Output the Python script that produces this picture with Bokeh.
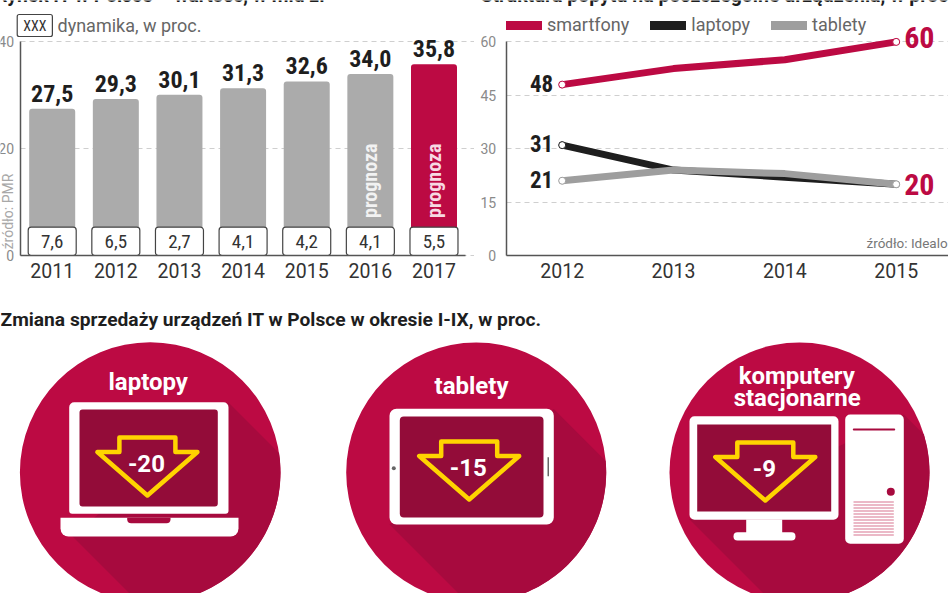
import math
from bokeh.core.properties import value
from bokeh.embed import file_html
from bokeh.resources import INLINE
from bokeh.layouts import column, row
from bokeh.models import Range1d, FixedTicker, Label, Legend, LegendItem, LinearAxis, Grid
from bokeh.plotting import figure

# ---------- data ----------
BAR_YEARS = [2011, 2012, 2013, 2014, 2015, 2016, 2017]
BAR_VALUES = [27.5, 29.3, 30.1, 31.3, 32.6, 34.0, 35.8]
BAR_GROWTH = [7.6, 6.5, 2.7, 4.1, 4.2, 4.1, 5.5]
FORECAST_YEARS = [2016, 2017]
BAR_TICKS = [0, 20, 40]

LINE_YEARS = [2012, 2013, 2014, 2015]
SMARTFONY = [48, 52.5, 55, 60]
LAPTOPY = [31, 24, 22, 20]
TABLETY = [21, 24, 23, 20]
LINE_TICKS = [0, 15, 30, 45, 60]

DEVICE_CHANGE = [-20, -15, -9]

TITLE_1 = "Rynek IT w Polsce – wartość, w mld zł"
TITLE_2 = "Struktura popytu na poszczególne urządzenia, w proc."
TITLE_3 = "Zmiana sprzedaży urządzeń IT w Polsce w okresie I-IX, w proc."

# ---------- style ----------
RED = "#BC0A43"
SHADOW = "#A70A3E"
SCREEN = "#930C39"
YELLOW = "#FFD400"
GREY = "#ABABAB"
LGREY = "#9E9E9E"
BLACK = "#1E1E1E"
AX = "#555555"
TICK = "#8A8A8A"
TXT = "#666666"
NARROW = "Roboto Condensed"
SANS = "Roboto"
NO_DATA = [float("nan")]


def pz(fig):
    fig.toolbar.logo = None
    fig.outline_line_color = None
    fig.background_fill_color = "white"
    fig.border_fill_color = "white"
    return fig


def style_axes(p, xt, yt, xb, yb, axis_x, standoff):
    p.xgrid.visible = False
    p.ygrid.visible = False
    p.xaxis.fixed_location = 0
    p.xaxis.ticker = FixedTicker(ticks=xt)
    p.xaxis.bounds = xb
    p.xaxis.major_tick_line_color = None
    p.xaxis.minor_tick_line_color = None
    p.xaxis.axis_line_color = AX
    p.xaxis.axis_line_width = 1.5
    p.xaxis.major_label_text_font = SANS
    p.xaxis.major_label_text_font_size = "19.5px"
    p.xaxis.major_label_text_color = "#333333"
    p.xaxis.major_label_standoff = 1
    yax = LinearAxis(ticker=FixedTicker(ticks=yt), fixed_location=axis_x, bounds=yb,
                     major_tick_line_color=None, minor_tick_line_color=None,
                     axis_line_color=AX, axis_line_width=1.5,
                     major_label_text_font=SANS, major_label_text_font_size="14px",
                     major_label_text_color=TICK, major_label_standoff=standoff)
    p.add_layout(yax, "left")
    grid = Grid(dimension=1, ticker=FixedTicker(ticks=yt), grid_line_color="#CFCFCF",
                grid_line_dash=[5, 4], grid_line_width=1)
    if "cross_bounds" in Grid.properties():
        grid.cross_bounds = (axis_x, p.x_range.end)
    p.add_layout(grid)


# ---------- left chart ----------
PW1 = 63.63
PH1 = 5.34
X0 = 2011 - 51.7 / PW1
X1 = 2011 + (474 - 51.7) / PW1
p1 = pz(figure(width=474, height=300, output_backend="svg", toolbar_location=None,
               x_range=Range1d(X0, X1), y_range=Range1d(-45 / PH1, 255 / PH1), y_axis_location=None,
               min_border_left=0, min_border_right=0, min_border_top=0, min_border_bottom=0))


def fx1(px):
    return X0 + px / PW1


def fy1(py):
    return (255 - py) / PH1


style_axes(p1, BAR_YEARS, BAR_TICKS, (fx1(19.5), fx1(465)), (0, 40), fx1(19.5), 0)

colors = [RED if y == 2017 else GREY for y in BAR_YEARS]
p1.vbar(x=BAR_YEARS, top=BAR_VALUES, width=46 / PW1, fill_color=colors, line_color=None,
        border_radius=(3, 3, 0, 0))
p1.vbar(x=BAR_YEARS, top=[5.3] * len(BAR_YEARS), bottom=0, width=48 / PW1, fill_color="white",
        line_color="#444444", line_width=1.2, border_radius=3)
p1.text(x=BAR_YEARS, y=[2.7] * len(BAR_YEARS),
        text=[f"{v:.1f}".replace(".", ",") for v in BAR_GROWTH],
        text_align="center", text_baseline="middle", text_font=value(NARROW),
        text_font_size="19px", text_color="#333333")
p1.text(x=BAR_YEARS, y=BAR_VALUES, text=[f"{v:.1f}".replace(".", ",") for v in BAR_VALUES],
        text_align="center", text_baseline="bottom", y_offset=-7, text_font=value(NARROW),
        text_font_style="bold", text_font_size="24px", text_color="#1E1E1E")
p1.text(x=FORECAST_YEARS, y=[14] * 2, text=["prognoza"] * 2, angle=math.pi / 2,
        text_align="center", text_baseline="middle", text_font=value(NARROW), text_font_style="bold",
        text_font_size="20px", text_color=["#F2F2F2", "#F7D9E2"])

lab = dict(x_units="data", y_units="data")
p1.add_layout(Label(x=fx1(325), y=fy1(-5), text=TITLE_1, text_font=SANS, text_font_style="bold",
                    text_font_size="19.3px", text_color="#1E1E1E", text_align="right",
                    text_baseline="alphabetic", **lab))
p1.add_layout(Label(x=fx1(34.3), y=fy1(25), text="XXX", text_font=NARROW, text_font_size="14px",
                    text_color="#333333", text_align="center", text_baseline="middle",
                    border_line_color="#444444", border_line_width=1.2, background_fill_color="white",
                    padding=(6, 3), border_radius=2, **lab))
p1.add_layout(Label(x=fx1(57), y=fy1(25), text="dynamika, w proc.", text_font=SANS,
                    text_font_size="18px", text_color=TXT, text_baseline="middle", **lab))
p1.add_layout(Label(x=fx1(7), y=fy1(211), text="źródło: PMR", text_font=SANS, text_font_size="14px",
                    text_color="#A8A8A8", text_align="center", text_baseline="middle",
                    angle=math.pi / 2, **lab))

# ---------- right chart ----------
PW2 = 111.33
PH2 = 3.56
LX0 = 2012 - (561.7 - 474) / PW2
LX1 = 2012 + (948 - 561.7) / PW2
p2 = pz(figure(width=474, height=300, output_backend="svg", toolbar_location=None,
               x_range=Range1d(LX0, LX1), y_range=Range1d(-45 / PH2, 255 / PH2), y_axis_location=None,
               min_border_left=0, min_border_right=0, min_border_top=0, min_border_bottom=0))


def fx2(px):
    return LX0 + (px - 474) / PW2


def fy2(py):
    return (255 - py) / PH2


style_axes(p2, LINE_YEARS, LINE_TICKS, (fx2(505.7), LX1), (0, 60), fx2(505.7), 4)

line_style = dict(line_cap="round", line_join="round")
p2.line(LINE_YEARS, SMARTFONY, line_color=RED, line_width=7, **line_style)
p2.line(LINE_YEARS, LAPTOPY, line_color=BLACK, line_width=7, **line_style)
p2.line(LINE_YEARS, TABLETY, line_color=LGREY, line_width=7, **line_style)
lr = p2.line(NO_DATA, NO_DATA, line_color=RED, line_width=9, **line_style)
lb = p2.line(NO_DATA, NO_DATA, line_color=BLACK, line_width=9, **line_style)
lg = p2.line(NO_DATA, NO_DATA, line_color=LGREY, line_width=9, **line_style)
p2.scatter([LINE_YEARS[0]] * 3, [SMARTFONY[0], LAPTOPY[0], TABLETY[0]], size=7, fill_color="white",
           line_color=[RED, BLACK, LGREY], line_width=1)
p2.scatter([LINE_YEARS[-1]] * 2, [SMARTFONY[-1], TABLETY[-1]], size=7, fill_color="white",
           line_color=[RED, LGREY], line_width=1)
p2.text([LINE_YEARS[0]] * 3, [SMARTFONY[0], LAPTOPY[0], TABLETY[0]],
        text=[str(SMARTFONY[0]), str(LAPTOPY[0]), str(TABLETY[0])], x_offset=-9, y_offset=-1.5,
        text_align="right", text_baseline="middle", text_font=value(NARROW), text_font_style="bold",
        text_font_size="23px", text_color=BLACK)
p2.text([LINE_YEARS[-1]] * 2, [SMARTFONY[-1], TABLETY[-1]],
        text=[str(SMARTFONY[-1]), str(TABLETY[-1])], x_offset=8, y_offset=[-4, 0],
        text_align="left", text_baseline="middle", text_font=value(NARROW), text_font_style="bold",
        text_font_size="30px", text_color=RED)
p2.add_layout(Label(x=fx2(480), y=fy2(-5), text=TITLE_2, text_font=SANS, text_font_style="bold",
                    text_font_size="19.5px", text_color="#1E1E1E", text_baseline="alphabetic", **lab))
p2.add_layout(Label(x=fx2(866), y=fy2(242), text="źródło: Idealo", text_font=SANS,
                    text_font_size="13.5px", text_color="#777777", text_baseline="middle", **lab))
legend = Legend(items=[LegendItem(label="smartfony", renderers=[lr]),
                       LegendItem(label="laptopy", renderers=[lb]),
                       LegendItem(label="tablety", renderers=[lg])],
                orientation="horizontal", location=(32, 265), padding=0, margin=0, spacing=21,
                glyph_width=36, glyph_height=14, label_standoff=5, border_line_color=None,
                background_fill_alpha=0, label_text_font=SANS, label_text_font_size="18px",
                label_text_color=TXT)
p2.add_layout(legend)

# ---------- pictograms (drawn in page pixels) ----------
p3 = pz(figure(width=948, height=293, output_backend="svg", toolbar_location=None,
               x_range=Range1d(0, 948), y_range=Range1d(593, 300),
               min_border_left=0, min_border_right=0, min_border_top=0, min_border_bottom=0))
p3.axis.visible = False
p3.grid.visible = False


def band(cx, cy, r, a, b):
    """Long 45-degree shadow from object corners a and b to the circle edge."""
    def hit(p):
        dx, dy = p[0] - cx, p[1] - cy
        k = (dx + dy) / math.sqrt(2)
        t = -k + math.sqrt(max(k * k - (dx * dx + dy * dy - r * r), 0))
        return p[0] + t / math.sqrt(2), p[1] + t / math.sqrt(2)
    ha, hb = hit(a), hit(b)
    a1 = math.atan2(ha[1] - cy, ha[0] - cx)
    a2 = math.atan2(hb[1] - cy, hb[0] - cx)
    arc = [(cx + r * math.cos(a1 + (a2 - a1) * i / 60), cy + r * math.sin(a1 + (a2 - a1) * i / 60))
           for i in range(61)]
    pts = [a] + arc + [b]
    return [q[0] for q in pts], [q[1] for q in pts]


def disc(cx, cy, r, a, b):
    p3.ellipse(x=cx, y=cy, width=2 * r, height=2 * r, fill_color=RED, line_color=None)
    xs, ys = band(cx, cy, r, a, b)
    p3.patch(xs, ys, fill_color=SHADOW, line_color=None)


def box(l, r, t, b, color="white", radius=0):
    p3.quad(left=l, right=r, top=t, bottom=b, fill_color=color, line_color=None, border_radius=radius)


def arrow(cx, top, val):
    xs = [cx - 28, cx + 28, cx + 28, cx + 50, cx, cx - 50, cx - 28]
    ys = [top, top, top + 14.5, top + 14.5, top + 58, top + 14.5, top + 14.5]
    p3.patch(xs, ys, fill_alpha=0, line_color=YELLOW, line_width=4.5, line_join="round")
    p3.text([cx - 1], [top + 25.5], text=[str(val)], text_align="center", text_baseline="middle",
            text_font=value(SANS), text_font_style="bold", text_font_size="24px", text_color="white")


def head(cx, cy, s):
    p3.text([cx], [cy], text=[s], text_align="center", text_baseline="middle", text_font=value(SANS),
            text_font_style="bold", text_font_size="24px", text_color="white")


p3.add_layout(Label(x=0, y=319, text=TITLE_3, text_font=SANS, text_font_style="bold",
                    text_font_size="19.2px", text_color="#1E1E1E", text_baseline="alphabetic", **lab))

# laptop
disc(149.7, 472, 130.3, (228, 402), (72, 536))
box(68.7, 228, 401.7, 513.3, radius=(5, 5, 3, 3))
box(79, 217.3, 409, 506, SCREEN, radius=3)
box(60, 238, 517.3, 536, radius=(0, 0, 8, 8))
box(126.7, 170, 517.3, 522.7, SHADOW, radius=(0, 0, 4, 4))
arrow(146.9, 437, DEVICE_CHANGE[0])
head(147.7, 381, "laptopy")

# tablet
disc(475.7, 472, 130, (553.3, 408.5), (389, 524))
box(389, 553.3, 408.3, 524, radius=7)
box(399.3, 543, 416, 517, SCREEN, radius=4)
p3.ellipse(x=393.3, y=467.7, width=4, height=4, fill_color="#666666", line_color=None)
box(547, 548.5, 456.7, 475.7, "#666666")
arrow(468.7, 441, DEVICE_CHANGE[1])
head(471, 385, "tablety")

# desktop
disc(799, 472, 130, (903.3, 414), (689, 519))
box(689, 838, 415.7, 519.3, radius=5)
box(696.7, 830.7, 424, 511, SCREEN)
box(745.7, 781.7, 519, 535)
box(733, 795, 531.7, 540, radius=4)
box(844.7, 903.3, 414, 543.3, radius=5)
box(852.3, 894.7, 428, 430, SHADOW, radius=1)
p3.ellipse(x=890.3, y=491.3, width=8, height=8, fill_color=SHADOW, line_color=None)
for i in range(12):
    box(853, 893.3, 501 + i * 3, 502 + i * 3, "#D8758F")
arrow(764.8, 442, DEVICE_CHANGE[2])
head(796.3, 375, "komputery")
head(796.7, 397.5, "stacjonarne")

top = row(p1, p2, spacing=0)
page = column(top, p3, spacing=0)
open("out.html", "w").write(file_html(page, INLINE))
